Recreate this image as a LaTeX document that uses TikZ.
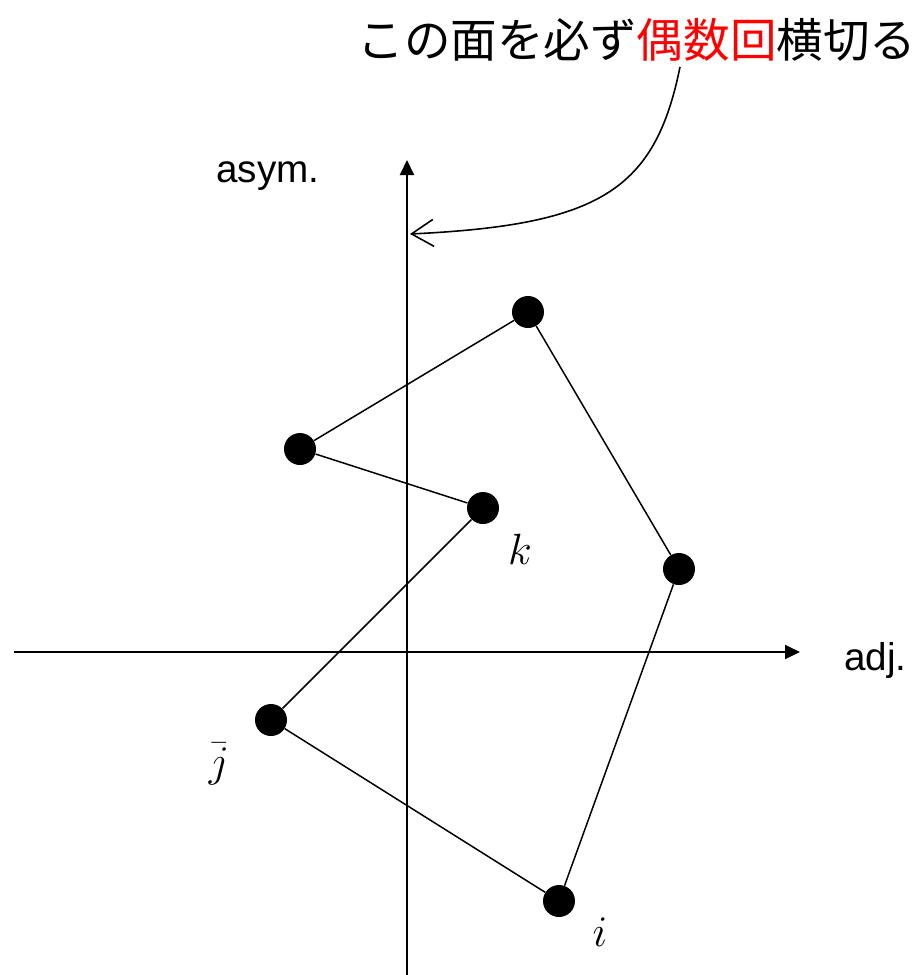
\documentclass[tikz,border=0pt]{standalone}
\usepackage{fontspec}
\setsansfont{Liberation Sans}
\newfontfamily\jpfont{Noto Sans CJK JP}
\usetikzlibrary{arrows.meta,positioning,calc}
\definecolor{red}{HTML}{FF0000}

\begin{document}
\begin{tikzpicture}[x=0.02cm,y=-0.02cm,
  pt/.style={circle,fill=black,inner sep=0pt,minimum size=6.4mm},
  lab/.style={inner sep=0pt,font=\fontsize{30}{32}\selectfont},
  axlab/.style={font=\sffamily\fontsize{22}{24}\selectfont},
  ax/.style={-{Triangle[length=3mm,width=2.8mm]},line width=1.1pt},
  edge/.style={line width=0.85pt}]
\useasboundingbox (0,0) rectangle (914,975);
% axes
\coordinate (xl) at (14,652);
\coordinate (xr) at (800,652);
\coordinate (yb) at (407,975);
\coordinate (yt) at (407,160);
\draw[ax] (xl)--(xr);
\draw[ax] (yb)--(yt);
\node[axlab,anchor=west] (adj) at (838,660) {adj.};
\node[axlab] (asym) at (268,176) {asym.};
% points
\node[pt] (p1) at (528,312) {};
\node[pt] (p2) at (300,449) {};
\node[pt] (k)  at (483,508) {};
\node[pt] (p4) at (679,569) {};
\node[pt] (j)  at (271,720) {};
\node[pt] (i)  at (559,901) {};
\draw[edge] (p1)--(p2)--(k)--(j)--(i)--(p4)--(p1);
\node[lab] (klab) at (520,549) {$k$};
\node[lab] (jlab) at (219,764) {$\bar{j}$};
\node[lab] (ilab) at (600,932) {$i$};
% note
\node[font=\jpfont\fontsize{26.5}{28}\selectfont] (note) at (637,40)
  {この面を必ず\textcolor{red}{偶数回}横切る};
\coordinate (ns) at (680,67);
\coordinate (hit) at (410,234);
\draw[-{Straight Barb[length=4.4mm,width=5.4mm]},line width=0.9pt]
  (ns) .. controls (655,190) and (600,225) .. (hit);
\end{tikzpicture}
\end{document}
